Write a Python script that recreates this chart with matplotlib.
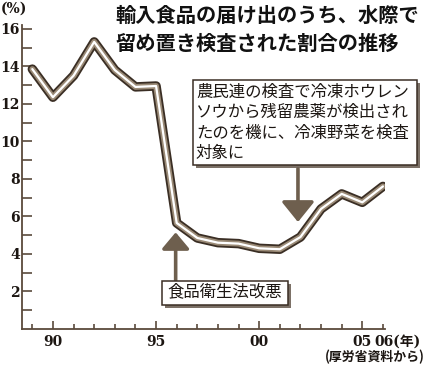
import matplotlib
matplotlib.use("Agg")
import matplotlib.pyplot as plt
import matplotlib.patheffects as pe
from matplotlib.patches import Rectangle
from matplotlib.ticker import FixedLocator

years = list(range(1989, 2007))
values = [13.85, 12.35, 13.5, 15.3, 13.8, 12.9, 12.95, 5.65, 4.85, 4.6,
          4.55, 4.3, 4.25, 4.9, 6.4, 7.2, 6.75, 7.6]
major_years = [1990, 1995, 2000, 2005]
major_labels = ["90", "95", "00", "05"]
y_major = [2, 4, 6, 8, 10, 12, 14, 16]
y_minor = [1, 3, 5, 7, 9, 11, 13, 15]

title_lines = ["輸入食品の届け出のうち、水際で", "留め置き検査された割合の推移"]
note_lines = ["農民連の検査で冷凍ホウレン", "ソウから残留農薬が検出され",
              "たのを機に、冷凍野菜を検査", "対象に"]
law_text = "食品衛生法改悪"
source_text = "(厚労省資料から)"

W, H = 433, 365
fig = plt.figure(figsize=(W / 100, H / 100), dpi=100)
fig.patch.set_facecolor("white")

def fx(px):
    return px / W

def fy(py):
    return 1 - py / H

ax = fig.add_axes([fx(22), fy(329), fx(385) - fx(22), fy(25) - fy(329)])
ax.set_xlim(1988.5, 2006.1)
ax.set_ylim(0, 16.2)

axc = "#5a4a3c"
txtc = "#1c1612"
for s in ["top", "right"]:
    ax.spines[s].set_visible(False)
for s in ["left", "bottom"]:
    ax.spines[s].set_color(axc)
    ax.spines[s].set_linewidth(1.3)

ax.yaxis.set_major_locator(FixedLocator(y_major))
ax.yaxis.set_minor_locator(FixedLocator(y_minor))
ax.xaxis.set_major_locator(FixedLocator(major_years))
ax.xaxis.set_minor_locator(FixedLocator(years))
ax.set_xticklabels(major_labels)
ax.set_yticklabels([str(v) for v in y_major])

ax.tick_params(axis="y", which="both", direction="in", length=7.2, width=1.2,
               color=axc, pad=1.5)
ax.tick_params(axis="x", which="major", direction="in", length=5.8, width=1.2,
               color=axc, pad=4)
ax.tick_params(axis="x", which="minor", direction="in", length=3.6, width=1.2,
               color=axc)
for lab in ax.get_xticklabels() + ax.get_yticklabels():
    lab.set_fontfamily("DejaVu Serif")
    lab.set_fontweight("bold")
    lab.set_fontsize(10)
    lab.set_color(txtc)

# tube-like line
ax.plot(years, values, color="#3a2e24", lw=6.8, solid_capstyle="round",
        solid_joinstyle="round", zorder=3)
ax.plot(years, values, color="#9a8a76", lw=4.2, solid_capstyle="round",
        solid_joinstyle="round", zorder=4)
ax.plot(years, values, color="white", lw=1.6, solid_capstyle="round",
        solid_joinstyle="round", zorder=5)

arrc = "#6e5f4e"
ax.annotate("", xy=(1995.95, 5.15), xytext=(1995.95, 2.5),
            arrowprops=dict(arrowstyle="-|>,head_length=0.5,head_width=0.42",
                            mutation_scale=20, lw=2.6, color=arrc,
                            shrinkA=0, shrinkB=0), zorder=2)
ax.annotate("", xy=(2001.88, 5.7), xytext=(2001.88, 8.55),
            arrowprops=dict(arrowstyle="-|>,head_length=0.62,head_width=0.5",
                            mutation_scale=20, lw=2.6, color=arrc,
                            shrinkA=0, shrinkB=0), zorder=2)

shadow = [pe.SimplePatchShadow(offset=(2.2, -2.2), shadow_rgbFace="#6e6256", alpha=0.9),
          pe.Normal()]

# boxes
r1 = Rectangle((fx(193), fy(165)), fx(417) - fx(193), fy(80) - fy(165),
               transform=fig.transFigure, facecolor="white", edgecolor="#3a2e24",
               lw=1.1, zorder=10)
r1.set_path_effects(shadow)
fig.patches.append(r1)
r2 = Rectangle((fx(162), fy(305)), fx(288) - fx(162), fy(281) - fy(305),
               transform=fig.transFigure, facecolor="white", edgecolor="#3a2e24",
               lw=1.1, zorder=10)
r2.set_path_effects(shadow)
fig.patches.append(r2)

cjk = ["Noto Sans CJK JP", "DejaVu Sans"]
for i, line in enumerate(note_lines):
    fig.text(fx(196), fy(92 + 20.5 * i), line, fontfamily=cjk, fontsize=11.8,
             color=txtc, ha="left", va="center", zorder=11)
fig.text(fx(225), fy(292), law_text, fontfamily=cjk, fontsize=11.8,
         color=txtc, ha="center", va="center", zorder=11)

for i, line in enumerate(title_lines):
    fig.text(fx(115), fy(15 + 28 * i), line, fontfamily=cjk, fontsize=14.6,
             fontweight="bold", color="#111111", ha="left", va="center")

fig.text(fx(1), fy(9), "(%)", fontfamily=["DejaVu Serif"], fontsize=10,
         fontweight="bold", color=txtc, ha="left", va="center")
fig.text(fx(374), fy(342), "06(年)", fontfamily=["DejaVu Serif", "Noto Sans CJK JP"],
         fontsize=10, fontweight="bold", color=txtc, ha="left", va="center")
fig.text(fx(425), fy(357), source_text, fontfamily=cjk, fontsize=9.3,
         fontweight="bold", color=txtc, ha="right", va="center")

fig.savefig("out.png", dpi=100, facecolor="white")
